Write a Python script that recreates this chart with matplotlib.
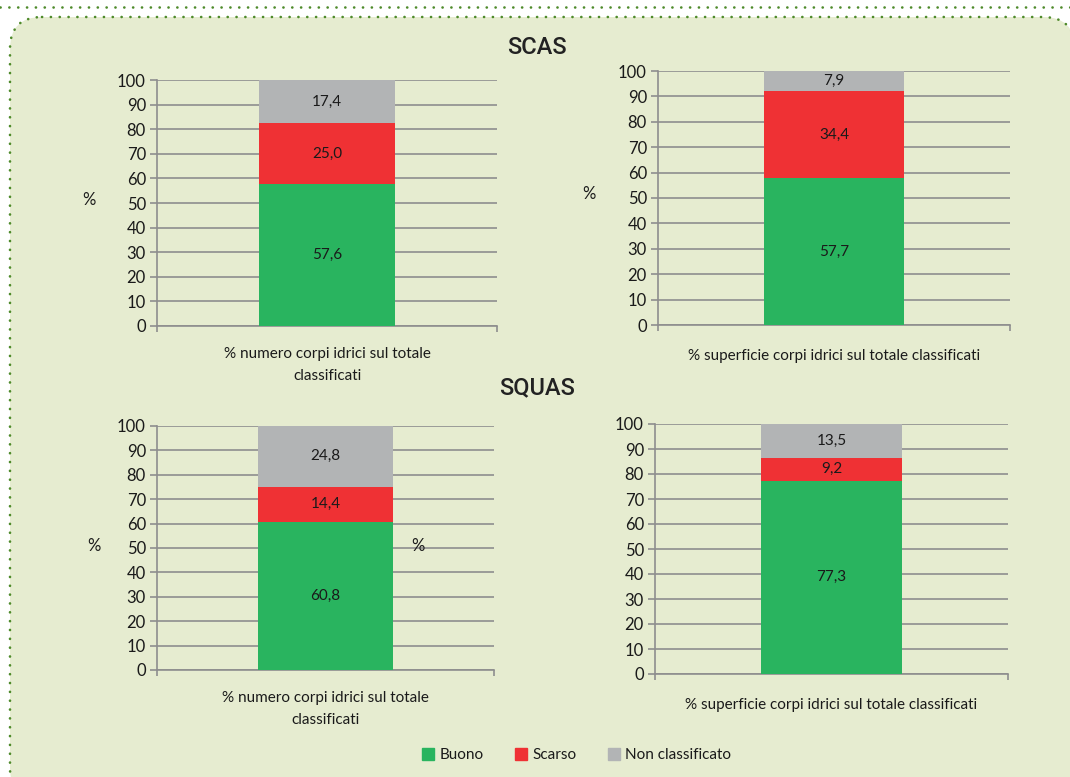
import matplotlib
matplotlib.use("Agg")
import matplotlib.pyplot as plt
from matplotlib.patches import FancyBboxPatch
from matplotlib.lines import Line2D

# ---- data ----
section_titles = ["SCAS", "SQUAS"]
series_names = ["Buono", "Scarso", "Non classificato"]
category_labels = [
    "% numero corpi idrici sul totale\nclassificati",
    "% superficie corpi idrici sul totale classificati",
    "% numero corpi idrici sul totale\nclassificati",
    "% superficie corpi idrici sul totale classificati",
]
buono = [57.6, 57.7, 60.8, 77.3]
scarso = [25.0, 34.4, 14.4, 9.2]
non_classificato = [17.4, 7.9, 24.8, 13.5]
y_ticks = [0, 10, 20, 30, 40, 50, 60, 70, 80, 90, 100]

# ---- style ----
BG = "#e6ecd0"
BORDER = "#4e8a2a"
COLORS = ["#29b45f", "#ef3134", "#b2b4b5"]
GRID = "#8e8e8e"
TXT = "#1a1a1a"
FONT = ["Lato", "DejaVu Sans"]
plt.rcParams["font.family"] = FONT

W, H = 1070, 777
fig = plt.figure(figsize=(W / 100, H / 100), dpi=100)
fig.patch.set_facecolor("white")

# background panel in pixel coordinates
bg = fig.add_axes([0, 0, 1, 1], zorder=-10)
bg.set_xlim(0, W)
bg.set_ylim(H, 0)
bg.axis("off")
panel = FancyBboxPatch((10, 17), 1075 - 10, 800 - 17,
                       boxstyle="round,pad=0,rounding_size=32",
                       facecolor=BG, edgecolor=BORDER, linewidth=1.9,
                       linestyle=(0, (0.05, 3.3)))
panel.set_capstyle("round")
bg.add_patch(panel)
bg.plot([0, W], [7, 7], color=BORDER, lw=1.9, linestyle=(0, (0.05, 3.3)),
        solid_capstyle="round", dash_capstyle="round")

# axes positions in pixels: (left, top, right, bottom)
boxes = [(157, 80, 497, 326), (658, 71, 1010, 325),
         (157, 426, 494, 670), (655, 424, 1008, 674)]
ylabel_pos = [(89, 200), (589, 194), (94, 546), (418, 546)]
label_pads = [15, 17, 15, 17]

for i, (l, t, r, b) in enumerate(boxes):
    ax = fig.add_axes([l / W, 1 - b / H, (r - l) / W, (b - t) / H])
    ax.set_facecolor("none")
    vals = [buono[i], scarso[i], non_classificato[i]]
    bottom = 0
    for v, c in zip(vals, COLORS):
        ax.bar([0], [v], bottom=bottom, width=0.4, color=c, zorder=3)
        ax.text(0, bottom + v / 2, f"{v:.1f}".replace(".", ","),
                ha="center", va="center", fontsize=11, color=TXT, zorder=4)
        bottom += v
    ax.set_xlim(-0.5, 0.5)
    ax.set_ylim(0, 100)
    ax.set_yticks(y_ticks)
    ax.yaxis.grid(True, color=GRID, lw=1.2, zorder=0)
    ax.set_axisbelow(True)
    ax.set_xticks([0])
    ax.set_xticklabels([category_labels[i]], fontsize=11, color=TXT,
                       linespacing=1.75)
    ax.set_xticks([-0.5, 0.5], minor=True)
    ax.tick_params(axis="x", which="major", length=0, pad=label_pads[i])
    ax.tick_params(axis="x", which="minor", length=4, color=GRID, width=1.2)
    ax.tick_params(axis="y", length=5, color=GRID, width=1.2, labelsize=12,
                   labelcolor=TXT, pad=3)
    for s in ["top", "right"]:
        ax.spines[s].set_visible(False)
    for s in ["left", "bottom"]:
        ax.spines[s].set_color(GRID)
        ax.spines[s].set_linewidth(1.2)
    ax.set_ylabel("%", rotation=0, fontsize=12, color=TXT, va="center", ha="center")
    px, py = ylabel_pos[i]
    ax.yaxis.set_label_coords((px - l) / (r - l), (b - py) / (b - t))

# section titles
fig.text(537 / W, 1 - 47 / H, section_titles[0], ha="center", va="center",
         fontsize=17, fontweight="medium", family=["Roboto", "DejaVu Sans"], color="#222222")
fig.text(537 / W, 1 - 388 / H, section_titles[1], ha="center", va="center",
         fontsize=17, fontweight="medium", family=["Roboto", "DejaVu Sans"], color="#222222")

# legend
handles = [Line2D([], [], marker="s", linestyle="none", markersize=8,
                  markerfacecolor=c, markeredgecolor=c) for c in COLORS]
fig.legend(handles, series_names, loc="center", ncol=3,
           bbox_to_anchor=(576 / W, 1 - 755 / H), frameon=False,
           fontsize=11, handletextpad=0.2, columnspacing=2.0,
           handlelength=1.0, labelcolor=TXT)

fig.savefig("out.png", dpi=100, facecolor=fig.get_facecolor())
